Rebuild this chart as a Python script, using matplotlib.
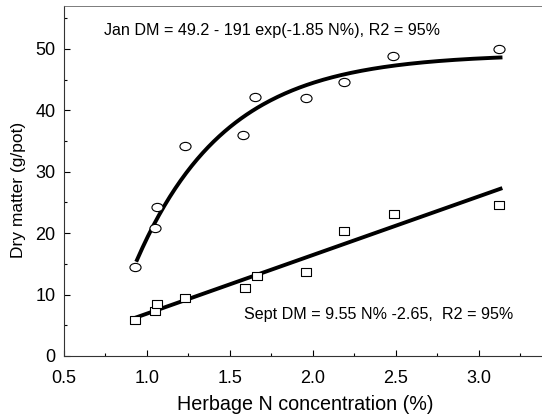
import matplotlib
matplotlib.use("Agg")
import matplotlib.pyplot as plt
import numpy as np
from matplotlib.path import Path
from matplotlib.ticker import MultipleLocator

plt.rcParams['font.family'] = ['Liberation Sans', 'DejaVu Sans']

# herbage N concentration (%) and dry matter (g/pot)
jan_n = [0.93, 1.05, 1.06, 1.23, 1.58, 1.65, 1.96, 2.19, 2.48, 3.12]
jan_dm = [14.5, 20.8, 24.3, 34.2, 36.0, 42.2, 42.0, 44.7, 48.8, 50.0]
sept_n = [0.93, 1.05, 1.06, 1.23, 1.59, 1.66, 1.96, 2.19, 2.49, 3.12]
sept_dm = [5.9, 7.3, 8.5, 9.4, 11.1, 13.1, 13.6, 20.4, 23.1, 24.6]

# fitted equations printed on the chart
jan_a, jan_b, jan_k = 49.2, 191.0, 1.85
sept_slope, sept_icpt = 9.55, -2.65
fit_range = (0.94, 3.13)

jan_label = "Jan DM = 49.2 - 191 exp(-1.85 N%), R2 = 95%"
sept_label = "Sept DM = 9.55 N% -2.65,  R2 = 95%"

# slightly squashed markers, like the scanned figure
circ = Path.unit_circle()
ellipse = Path(circ.vertices * [1.35, 1.0], circ.codes)
rect = Path([(-1.3, -1), (1.3, -1), (1.3, 1), (-1.3, 1), (-1.3, -1)],
            [Path.MOVETO, Path.LINETO, Path.LINETO, Path.LINETO, Path.CLOSEPOLY])

fig = plt.figure(figsize=(5.42, 4.17), dpi=100)
ax = fig.add_axes([0.118, 0.1463, 0.882, 0.8393])

xs = np.linspace(fit_range[0], fit_range[1], 200)
ax.plot(xs, jan_a - jan_b * np.exp(-jan_k * xs), color='black', lw=2.8, zorder=2)
ax.plot(xs, sept_slope * xs + sept_icpt, color='black', lw=2.8, zorder=2)

ax.plot(jan_n, jan_dm, ls='none', marker=ellipse, ms=8, mfc='white', mec='black', mew=0.8, zorder=3)
ax.plot(sept_n, sept_dm, ls='none', marker=rect, ms=7.4, mfc='white', mec='black', mew=0.8, zorder=3)

ax.text(0.744, 53.0, jan_label, fontsize=11.6, va='center', ha='left')
ax.text(1.582, 6.8, sept_label, fontsize=11.6, va='center', ha='left')

ax.set_xlim(0.5, 3.38)
ax.set_ylim(0, 57)
ax.set_xticks([0.5, 1.0, 1.5, 2.0, 2.5, 3.0])
ax.set_xticklabels(['0.5', '1.0', '1.5', '2.0', '2.5', '3.0'])
ax.xaxis.set_minor_locator(MultipleLocator(0.25))
ax.yaxis.set_major_locator(MultipleLocator(10))
ax.yaxis.set_minor_locator(MultipleLocator(5))
ax.tick_params(which='both', direction='in', labelsize=13, width=0.8)
ax.tick_params(axis='x', which='major', length=4, pad=10)
ax.tick_params(axis='y', which='major', length=4, pad=6)
ax.tick_params(which='minor', length=2.5)

ax.spines['right'].set_visible(False)
ax.spines['top'].set_color('0.4')
ax.spines['top'].set_linewidth(0.6)
ax.spines['top'].set_linestyle((0, (4, 1)))
for s in ['left', 'bottom']:
    ax.spines[s].set_linewidth(0.8)
    ax.spines[s].set_color('0.2')

ax.set_xlabel('Herbage N concentration (%)', fontsize=14.2, va='center')
ax.set_ylabel('Dry matter (g/pot)', fontsize=12.5, va='center')
ax.xaxis.set_label_coords(0.505, -0.14)
ax.yaxis.set_label_coords(-0.096, 0.475)

fig.savefig('out.png', dpi=100)
